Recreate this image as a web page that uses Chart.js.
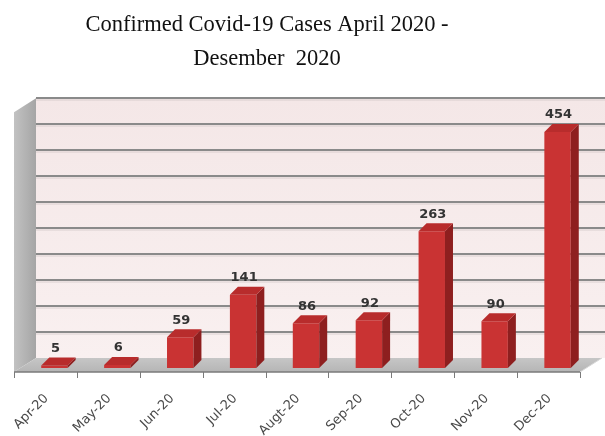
<!DOCTYPE html>
<html><head><meta charset="utf-8">
<script src="https://cdn.jsdelivr.net/npm/chart.js@4/dist/chart.umd.min.js"></script>
<style>html,body{margin:0;padding:0;background:#fff;}</style>
</head><body>
<canvas id="c" width="605" height="436"></canvas>
<script>
const months = ['Apr-20','May-20','Jun-20','Jul-20','Augt-20','Sep-20','Oct-20','Nov-20','Dec-20'];
const cases = [5,6,59,141,86,92,263,90,454];
const gridTicks = [50,100,150,200,250,300,350,400,450,500];
const titleLines = ['Confirmed Covid-19 Cases April 2020 -','Desember  2020'];

const D = {frontDx:-9, frontDy:4, backDx:13, backDy:-10, barDx:8, barDy:-8};

const titleShift = {
  id:'titleShift',
  afterLayout(chart){
    const t = chart.titleBlock;
    if (t) { t.left -= 39; t.right -= 39; }
  }
};

const scene3d = {
  id:'scene3d',
  beforeDatasetsDraw(chart){
    const {ctx, chartArea:a, scales:{x, y}} = chart;
    const y0 = y.getPixelForValue(0), yM = y.getPixelForValue(500);
    const fL = a.left + D.frontDx, fR = a.right + D.frontDx, fB = y0 + D.frontDy, fT = yM + D.frontDy;
    const bL = a.left + D.backDx, bR = chart.width, bB = y0 + D.backDy, bT = yM + D.backDy;
    const depthX = D.backDx - D.frontDx;
    ctx.save();
    let g = ctx.createLinearGradient(0, bT, 0, bB);
    g.addColorStop(0, '#f4e7e7'); g.addColorStop(1, '#f9f0f0');
    ctx.fillStyle = g;
    ctx.fillRect(bL, bT, bR - bL, bB - bT);
    gridTicks.forEach(v => {
      const yy = Math.round(y.getPixelForValue(v) + D.backDy);
      ctx.strokeStyle = '#8a8a8a'; ctx.lineWidth = 2;
      ctx.beginPath(); ctx.moveTo(bL, yy); ctx.lineTo(bR, yy); ctx.stroke();
      ctx.strokeStyle = 'rgba(200,190,190,0.6)'; ctx.lineWidth = 1;
      ctx.beginPath(); ctx.moveTo(bL, yy + 2); ctx.lineTo(bR, yy + 2); ctx.stroke();
    });
    g = ctx.createLinearGradient(fL, 0, bL, 0);
    g.addColorStop(0, '#c2c2c2'); g.addColorStop(1, '#a5a5a5');
    ctx.fillStyle = g;
    ctx.beginPath(); ctx.moveTo(fL, fB); ctx.lineTo(fL, fT); ctx.lineTo(bL, bT); ctx.lineTo(bL, bB); ctx.closePath(); ctx.fill();
    g = ctx.createLinearGradient(0, bB, 0, fB);
    g.addColorStop(0, '#c6c6c6'); g.addColorStop(1, '#b5b5b5');
    ctx.fillStyle = g;
    ctx.beginPath(); ctx.moveTo(fL, fB); ctx.lineTo(fR, fB); ctx.lineTo(fR + depthX, bB); ctx.lineTo(bL, bB); ctx.closePath(); ctx.fill();
    ctx.strokeStyle = '#d8d8d8'; ctx.lineWidth = 1;
    ctx.beginPath(); ctx.moveTo(fR, fB); ctx.lineTo(fR + depthX, bB); ctx.stroke();
    ctx.strokeStyle = '#7a7a7a'; ctx.lineWidth = 1.5;
    ctx.beginPath(); ctx.moveTo(fL, fB); ctx.lineTo(fR, fB); ctx.stroke();
    ctx.lineWidth = 1;
    for (let i = 0; i <= months.length; i++) {
      const xx = Math.round(x.getPixelForValue(i - 0.5) + D.frontDx) + 0.5;
      ctx.beginPath(); ctx.moveTo(xx, fB); ctx.lineTo(xx, fB + 6); ctx.stroke();
    }
    ctx.restore();
  },
  afterDatasetsDraw(chart){
    const {ctx} = chart;
    const meta = chart.getDatasetMeta(0);
    ctx.save();
    meta.data.forEach((el, i) => {
      const p = el.getProps(['x','y','base','width'], true);
      const l = p.x - p.width/2, r = p.x + p.width/2;
      ctx.fillStyle = '#8e1f1f';
      ctx.beginPath(); ctx.moveTo(r, p.y); ctx.lineTo(r + D.barDx, p.y + D.barDy); ctx.lineTo(r + D.barDx, p.base + D.barDy); ctx.lineTo(r, p.base); ctx.closePath(); ctx.fill();
      ctx.fillStyle = '#b82c2c';
      ctx.beginPath(); ctx.moveTo(l, p.y); ctx.lineTo(r, p.y); ctx.lineTo(r + D.barDx, p.y + D.barDy); ctx.lineTo(l + D.barDx, p.y + D.barDy); ctx.closePath(); ctx.fill();
      ctx.fillStyle = '#333';
      ctx.font = 'bold 13px "DejaVu Sans"';
      ctx.textAlign = 'center'; ctx.textBaseline = 'middle';
      ctx.fillText(String(cases[i]), p.x + 1, p.y + D.barDy - 9);
    });
    ctx.restore();
  }
};

new Chart(document.getElementById('c'), {
  type: 'bar',
  data: {
    labels: months,
    datasets: [{ data: cases, backgroundColor: '#c93333', borderWidth: 0, barPercentage: 0.42, categoryPercentage: 1 }]
  },
  options: {
    responsive: false,
    animation: false,
    devicePixelRatio: 1,
    layout: { padding: { left: 23, right: 16, top: 0, bottom: 0 } },
    plugins: {
      legend: { display: false },
      tooltip: { enabled: false },
      title: {
        display: true, text: titleLines, color: '#111',
        font: { family: '"Liberation Serif", serif', size: 22.5, weight: 'normal', lineHeight: 1.47 },
        padding: { top: 9, bottom: 33 }
      }
    },
    scales: {
      x: {
        offset: true,
        grid: { display: false, drawTicks: false },
        border: { display: false },
        ticks: { autoSkip: false, minRotation: 45, maxRotation: 45, padding: 23, labelOffset: -8,
                 color: '#4a4a4a', font: { family: '"DejaVu Sans"', size: 13 } },
        afterFit(s) { s.height = 68; s.paddingLeft = 0; s.paddingRight = 0; }
      },
      y: { display: false, min: 0, max: 500 }
    }
  },
  plugins: [scene3d, titleShift]
});
</script>
</body></html>
